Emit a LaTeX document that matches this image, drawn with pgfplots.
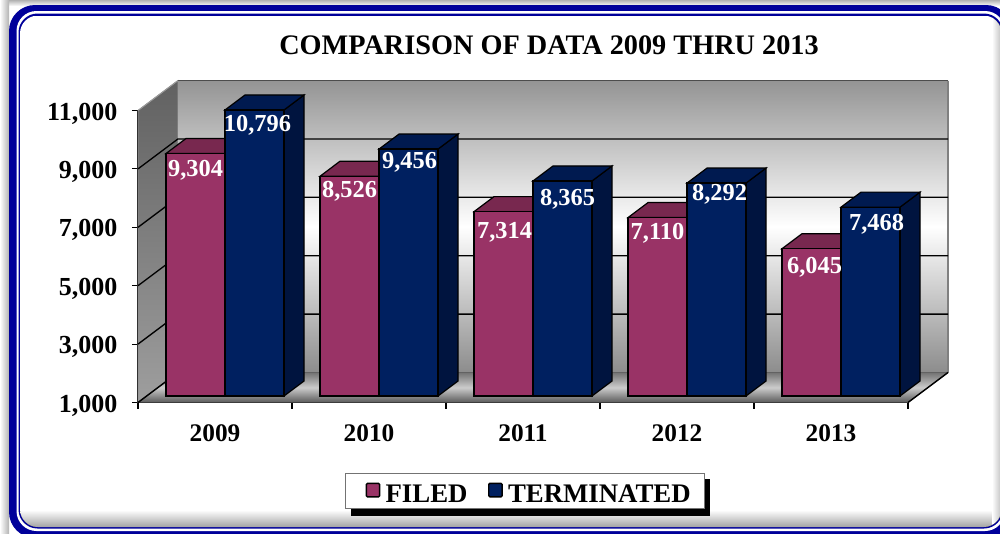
\documentclass[border=0pt]{standalone}
\usepackage{pgfplots}
\pgfplotsset{compat=1.18}
\usepackage{fontspec}
\setmainfont{Liberation Serif}
\definecolor{filedc}{HTML}{993366}
\definecolor{filedt}{HTML}{78284F}
\definecolor{termc}{HTML}{002060}
\definecolor{termt}{HTML}{001A50}
\definecolor{terms}{HTML}{00143F}
\definecolor{framec}{HTML}{00009A}
\pgfplotsset{sqleg/.style={legend image code/.code={%
  \path (-7.5pt,0pt) (12pt,14pt);
  \draw[##1,line width=1.1pt,rounded corners=0.8pt] (0pt,-1.8pt) rectangle (10pt,8.2pt);}}}
\begin{document}
\begin{tikzpicture}[x=0.75pt,y=-0.75pt]
% page
\path[fill=white] (0,0) rectangle (1000,533);
\clip (0,0) rectangle (1000,533);
% outer shadow
\fill[top color=black!30,bottom color=white] (0,0) rectangle (1000,6);
\fill[left color=white,right color=black!30] (0,0) rectangle (9,533);
% frame
\fill[framec,rounded corners=26*0.75pt] (9,5) rectangle (1012,538);
\fill[white,rounded corners=20*0.75pt] (16.5,11) rectangle (1005,531);
\fill[framec,rounded corners=19*0.75pt] (18.5,13.5) rectangle (1003,528.5);
\begin{scope}
\clip[rounded corners=18*0.75pt] (20,15.5) rectangle (1001.5,527);
\fill[white] (20,15.5) rectangle (1001.5,527);
\fill[top color=white,bottom color=black!36] (20,510) rectangle (1001.5,527);
\fill[left color=white,right color=black!25] (992,15.5) rectangle (1001.5,527);
\end{scope}
% title
\node[font=\fontsize{21.2}{24}\selectfont\bfseries,anchor=center] at (549,45) {COMPARISON OF DATA 2009 THRU 2013};
% legend shadow
\fill[black] (351,479) rectangle (710,516);
% walls, floor and value axis
\begin{axis}[
  at={(138*0.75pt,-402.5*0.75pt)},anchor=south west,
  scale only axis,width=770*0.75pt,height=292*0.75pt,
  xmin=0,xmax=5,ymin=1000,ymax=11000,clip=false,
  axis x line*=bottom,axis y line*=left,
  axis line style={black,line width=0.9pt,-},
  scaled y ticks=false,
  xtick={0,1,2,3,4,5},xticklabels={},
  extra x ticks={0.5,1.5,2.5,3.5,4.5},
  extra x tick labels={2009,2010,2011,2012,2013},
  extra x tick style={major tick length=0pt},
  ytick={1000,3000,5000,7000,9000,11000},
  tick style={black,line width=0.8pt},
  major tick length=6*0.75pt,
  tick align=outside,
  /pgf/number format/.cd,fixed,precision=0,1000 sep={,},assume math mode=true,
  /pgfplots/.cd,
  tick label style={font=\fontsize{19}{22}\selectfont\bfseries},
  xticklabel style={yshift=-17*0.75pt},
  yticklabel style={font=\fontsize{19.5}{22}\selectfont\bfseries,xshift=-10*0.75pt,yshift=-3*0.75pt},
]
% left wall
\fill[top color=black!62,bottom color=black!38,draw=black!45,line width=0.5pt]
  (axis cs:0,1000) -- (axis cs:0.2597,2027) -- (axis cs:0.2597,12027) -- (axis cs:0,11000) -- cycle;
% back wall
\fill[top color=black!42,bottom color=black!45,middle color=white]
  (axis cs:0.2597,2027) rectangle (axis cs:5.2597,12027);
\draw[black!50,line width=0.9pt] (axis cs:5.2597,2027) -- (axis cs:5.2597,12027);
\draw[black!70,line width=1.2pt] (axis cs:0.2597,12027) -- (axis cs:5.2597,12027);
\draw[black!40,line width=0.8pt] (axis cs:0,11000) -- (axis cs:0.2597,12027);
% floor
\fill[top color=black!55,bottom color=black!65,middle color=black!20]
  (axis cs:0,1000) -- (axis cs:5,1000) -- (axis cs:5.2597,2027) -- (axis cs:0.2597,2027) -- cycle;
\addplot[black,line width=1.1pt,forget plot] coordinates {(5,1000) (5.2597,2027)};
\addplot[black,line width=1.1pt,forget plot] coordinates {(0,1000) (0.2597,2027)};
% gridlines
\addplot[black,line width=1pt,forget plot] coordinates {(0,3000) (0.2597,4027) (5.2597,4027)};
\addplot[black,line width=1pt,forget plot] coordinates {(0,5000) (0.2597,6027) (5.2597,6027)};
\addplot[black,line width=1pt,forget plot] coordinates {(0,7000) (0.2597,8027) (5.2597,8027)};
\addplot[black,line width=1pt,forget plot] coordinates {(0,9000) (0.2597,10027) (5.2597,10027)};
\end{axis}
% bars
\begin{axis}[
  at={(148*0.75pt,-396*0.75pt)},anchor=south west,
  scale only axis,width=770*0.75pt,height=292*0.75pt,
  xmin=0,xmax=5,ymin=1000,ymax=11000,clip=false,
  hide axis,
  /pgf/number format/.cd,fixed,precision=0,1000 sep={,},assume math mode=true,
  /pgfplots/.cd,
  nodes near coords style={font=\fontsize{18.3}{22}\selectfont\bfseries,text=white,anchor=north,inner sep=2pt},
  legend style={at={(0.489,-0.3253)},anchor=center,draw=black!55,fill=white,line width=0.7pt,
    legend columns=2,font=\fontsize{20.1}{22}\selectfont\bfseries,
    inner xsep=8pt,inner ysep=1.1pt,
    nodes={inner xsep=2pt,inner ysep=2pt},
    /tikz/every even column/.append style={column sep=8*0.75pt}},
  legend cell align=left,
]
\pgfplotsset{every axis plot/.append style={line width=0.9pt}}
% tops of FILED
\addplot[fill=filedt,draw=black,forget plot] coordinates {(0.1169,9304) (0.5,9304) (0.6299,9818) (0.2468,9818)} -- cycle;
\addplot[fill=filedt,draw=black,forget plot] coordinates {(1.1169,8526) (1.5,8526) (1.6299,9040) (1.2468,9040)} -- cycle;
\addplot[fill=filedt,draw=black,forget plot] coordinates {(2.1169,7314) (2.5,7314) (2.6299,7828) (2.2468,7828)} -- cycle;
\addplot[fill=filedt,draw=black,forget plot] coordinates {(3.1169,7110) (3.5,7110) (3.6299,7624) (3.2468,7624)} -- cycle;
\addplot[fill=filedt,draw=black,forget plot] coordinates {(4.1169,6045) (4.5,6045) (4.6299,6559) (4.2468,6559)} -- cycle;
% FILED bars
\addplot[ybar,bar width=59*0.75pt,bar shift=-29.5*0.75pt,fill=filedc,draw=black,sqleg,
  nodes near coords,
  visualization depends on={\thisrow{ox}\as\ox},
  visualization depends on={\thisrow{oy}\as\oy},
  nodes near coords style={xshift=(-29.5+\ox)*0.75pt,yshift=(-3+\oy)*0.75pt}]
  table[x=x,y=y] {
x y ox oy
0.5 9304 0 0
1.5 8526 0 1
2.5 7314 1 -4
3.5 7110 0 1
4.5 6045 3 -2
};
\addlegendentry{FILED}
% tops and sides of TERMINATED
\addplot[fill=terms,draw=black,forget plot] coordinates {(0.8831,1000) (1.013,1514) (1.013,11310) (0.8831,10796)} -- cycle;
\addplot[fill=termt,draw=black,forget plot] coordinates {(0.5,10796) (0.8831,10796) (1.013,11310) (0.6299,11310)} -- cycle;
\addplot[fill=terms,draw=black,forget plot] coordinates {(1.8831,1000) (2.013,1514) (2.013,9970) (1.8831,9456)} -- cycle;
\addplot[fill=termt,draw=black,forget plot] coordinates {(1.5,9456) (1.8831,9456) (2.013,9970) (1.6299,9970)} -- cycle;
\addplot[fill=terms,draw=black,forget plot] coordinates {(2.8831,1000) (3.013,1514) (3.013,8879) (2.8831,8365)} -- cycle;
\addplot[fill=termt,draw=black,forget plot] coordinates {(2.5,8365) (2.8831,8365) (3.013,8879) (2.6299,8879)} -- cycle;
\addplot[fill=terms,draw=black,forget plot] coordinates {(3.8831,1000) (4.013,1514) (4.013,8806) (3.8831,8292)} -- cycle;
\addplot[fill=termt,draw=black,forget plot] coordinates {(3.5,8292) (3.8831,8292) (4.013,8806) (3.6299,8806)} -- cycle;
\addplot[fill=terms,draw=black,forget plot] coordinates {(4.8831,1000) (5.013,1514) (5.013,7982) (4.8831,7468)} -- cycle;
\addplot[fill=termt,draw=black,forget plot] coordinates {(4.5,7468) (4.8831,7468) (5.013,7982) (4.6299,7982)} -- cycle;
% TERMINATED bars
\addplot[ybar,bar width=59*0.75pt,bar shift=29.5*0.75pt,fill=termc,draw=black,sqleg,
  nodes near coords,
  visualization depends on={\thisrow{ox}\as\ox},
  visualization depends on={\thisrow{oy}\as\oy},
  nodes near coords style={xshift=(29.5+\ox)*0.75pt,yshift=(-1+\oy)*0.75pt}]
  table[x=x,y=y] {
x y ox oy
0.5 10796 3 -1
1.5 9456 1 1
2.5 8365 5 -4
3.5 8292 3 3
4.5 7468 6 -3
};
\addlegendentry{TERMINATED}
\end{axis}
\end{tikzpicture}
\end{document}
